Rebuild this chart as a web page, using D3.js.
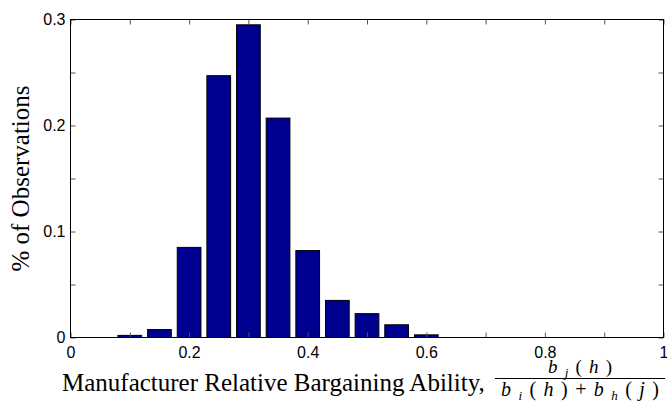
<!DOCTYPE html>
<html lang="en">
<head>
    <meta charset="UTF-8">
    <title>Manufacturer Relative Bargaining Ability</title>
    <style>
        body { margin: 0; background: #fff; }
        .tick-label { font-family: 'Liberation Sans', Arial, sans-serif; font-size: 16px; fill: #000; }
        .axis-title { font-family: 'Liberation Serif', 'DejaVu Serif', serif; font-size: 25px; fill: #000; }
        .math { font-family: 'Liberation Serif', serif; font-style: italic; fill: #000; }
    </style>
</head>
<body>
    <svg id="chart" width="667" height="406"></svg>

    <script src="https://d3js.org/d3.v7.min.js"></script>
    <script>
        // histogram bins (centres) and share of observations
        var binCenters = [0.10, 0.15, 0.20, 0.25, 0.30, 0.35, 0.40, 0.45, 0.50, 0.55, 0.60];
        var shares     = [0.002, 0.0075, 0.085, 0.247, 0.295, 0.207, 0.082, 0.035, 0.0225, 0.012, 0.0025];
        var xTicks = [0, 0.1, 0.2, 0.3, 0.4, 0.5, 0.6, 0.7, 0.8, 0.9, 1];
        var xLabels = [0, 0.2, 0.4, 0.6, 0.8, 1];
        var yTicks = [0, 0.05, 0.1, 0.15, 0.2, 0.25, 0.3];
        var yLabels = [0, 0.1, 0.2, 0.3];

        var plotLeft = 70.5, plotRight = 663.5, plotTop = 19.5, plotBottom = 337.5;
        var barFill = '#000090';

        var svg = d3.select('#chart');

        var x = d3.scaleLinear().domain([0, 1]).range([plotLeft, plotRight]);
        var y = d3.scaleLinear().domain([0, 0.3]).range([plotBottom, plotTop]);

        var binWidth = 0.05;
        var barW = x(binWidth * 0.8) - x(0);

        // bars
        svg.append('g')
            .selectAll('rect')
            .data(binCenters)
            .enter()
            .append('rect')
            .attr('x', (d) => x(d) - barW / 2)
            .attr('y', (d, i) => y(shares[i]))
            .attr('width', barW)
            .attr('height', (d, i) => y(0) - y(shares[i]))
            .attr('fill', barFill)
            .attr('stroke', '#000')
            .attr('stroke-width', 1);

        // ticks pointing inward, on all four sides
        var fmt = (labels) => (d) => labels.some(l => Math.abs(l - d) < 1e-9) ? d3.format('~g')(d) : '';

        var xb = svg.append('g')
            .attr('transform', `translate(0,${plotBottom})`)
            .call(d3.axisBottom(x).tickValues(xTicks).tickSize(-5).tickPadding(9).tickFormat(fmt(xLabels)));
        var xt = svg.append('g')
            .attr('transform', `translate(0,${plotTop})`)
            .call(d3.axisTop(x).tickValues(xTicks).tickSize(-5).tickFormat(''));
        var yl = svg.append('g')
            .attr('transform', `translate(${plotLeft},0)`)
            .call(d3.axisLeft(y).tickValues(yTicks).tickSize(-5).tickPadding(5).tickFormat(fmt(yLabels)));
        var yr = svg.append('g')
            .attr('transform', `translate(${plotRight},0)`)
            .call(d3.axisRight(y).tickValues(yTicks).tickSize(-5).tickFormat(''));

        [xb, xt, yl, yr].forEach(function (g) {
            g.selectAll('.domain').remove();
            g.selectAll('line').attr('stroke', '#555');
            g.selectAll('text').attr('class', 'tick-label');
            g.attr('font-size', null).attr('font-family', null);
        });

        // frame
        svg.append('rect')
            .attr('x', plotLeft).attr('y', plotTop)
            .attr('width', plotRight - plotLeft).attr('height', plotBottom - plotTop)
            .attr('fill', 'none').attr('stroke', '#000').attr('stroke-width', 1);

        // y axis title
        svg.append('text')
            .attr('class', 'axis-title')
            .attr('transform', `translate(29,${(plotTop + plotBottom) / 2}) rotate(-90)`)
            .attr('text-anchor', 'middle')
            .text('% of Observations');

        // x axis title with fraction
        svg.append('text')
            .attr('class', 'axis-title')
            .attr('x', 62)
            .attr('y', 391)
            .text('Manufacturer Relative Bargaining Ability,');

        var fracX = 580, fracW = 170;
        var num = svg.append('text').attr('class', 'math').attr('x', fracX).attr('y', 373)
            .attr('text-anchor', 'middle').attr('font-size', 19)
            .attr('textLength', 64);
        num.append('tspan').text('b');
        num.append('tspan').attr('font-size', 13).attr('dy', 4).text('j');
        num.append('tspan').attr('dy', -4).attr('font-style', 'normal').text('(');
        num.append('tspan').text('h');
        num.append('tspan').attr('font-style', 'normal').text(')');

        svg.append('line')
            .attr('x1', fracX - fracW / 2).attr('x2', fracX + fracW / 2)
            .attr('y1', 378.5).attr('y2', 378.5)
            .attr('stroke', '#000').attr('stroke-width', 1.2);

        var den = svg.append('text').attr('class', 'math').attr('x', fracX).attr('y', 396)
            .attr('text-anchor', 'middle').attr('font-size', 20)
            .attr('textLength', 158);
        den.append('tspan').text('b');
        den.append('tspan').attr('font-size', 13).attr('dy', 4).text('i');
        den.append('tspan').attr('dy', -4).attr('font-style', 'normal').text('(');
        den.append('tspan').text('h');
        den.append('tspan').attr('font-style', 'normal').text(')+');
        den.append('tspan').text('b');
        den.append('tspan').attr('font-size', 13).attr('dy', 4).text('h');
        den.append('tspan').attr('dy', -4).attr('font-style', 'normal').text('(');
        den.append('tspan').text('j');
        den.append('tspan').attr('font-style', 'normal').text(')');
    </script>
</body>
</html>
